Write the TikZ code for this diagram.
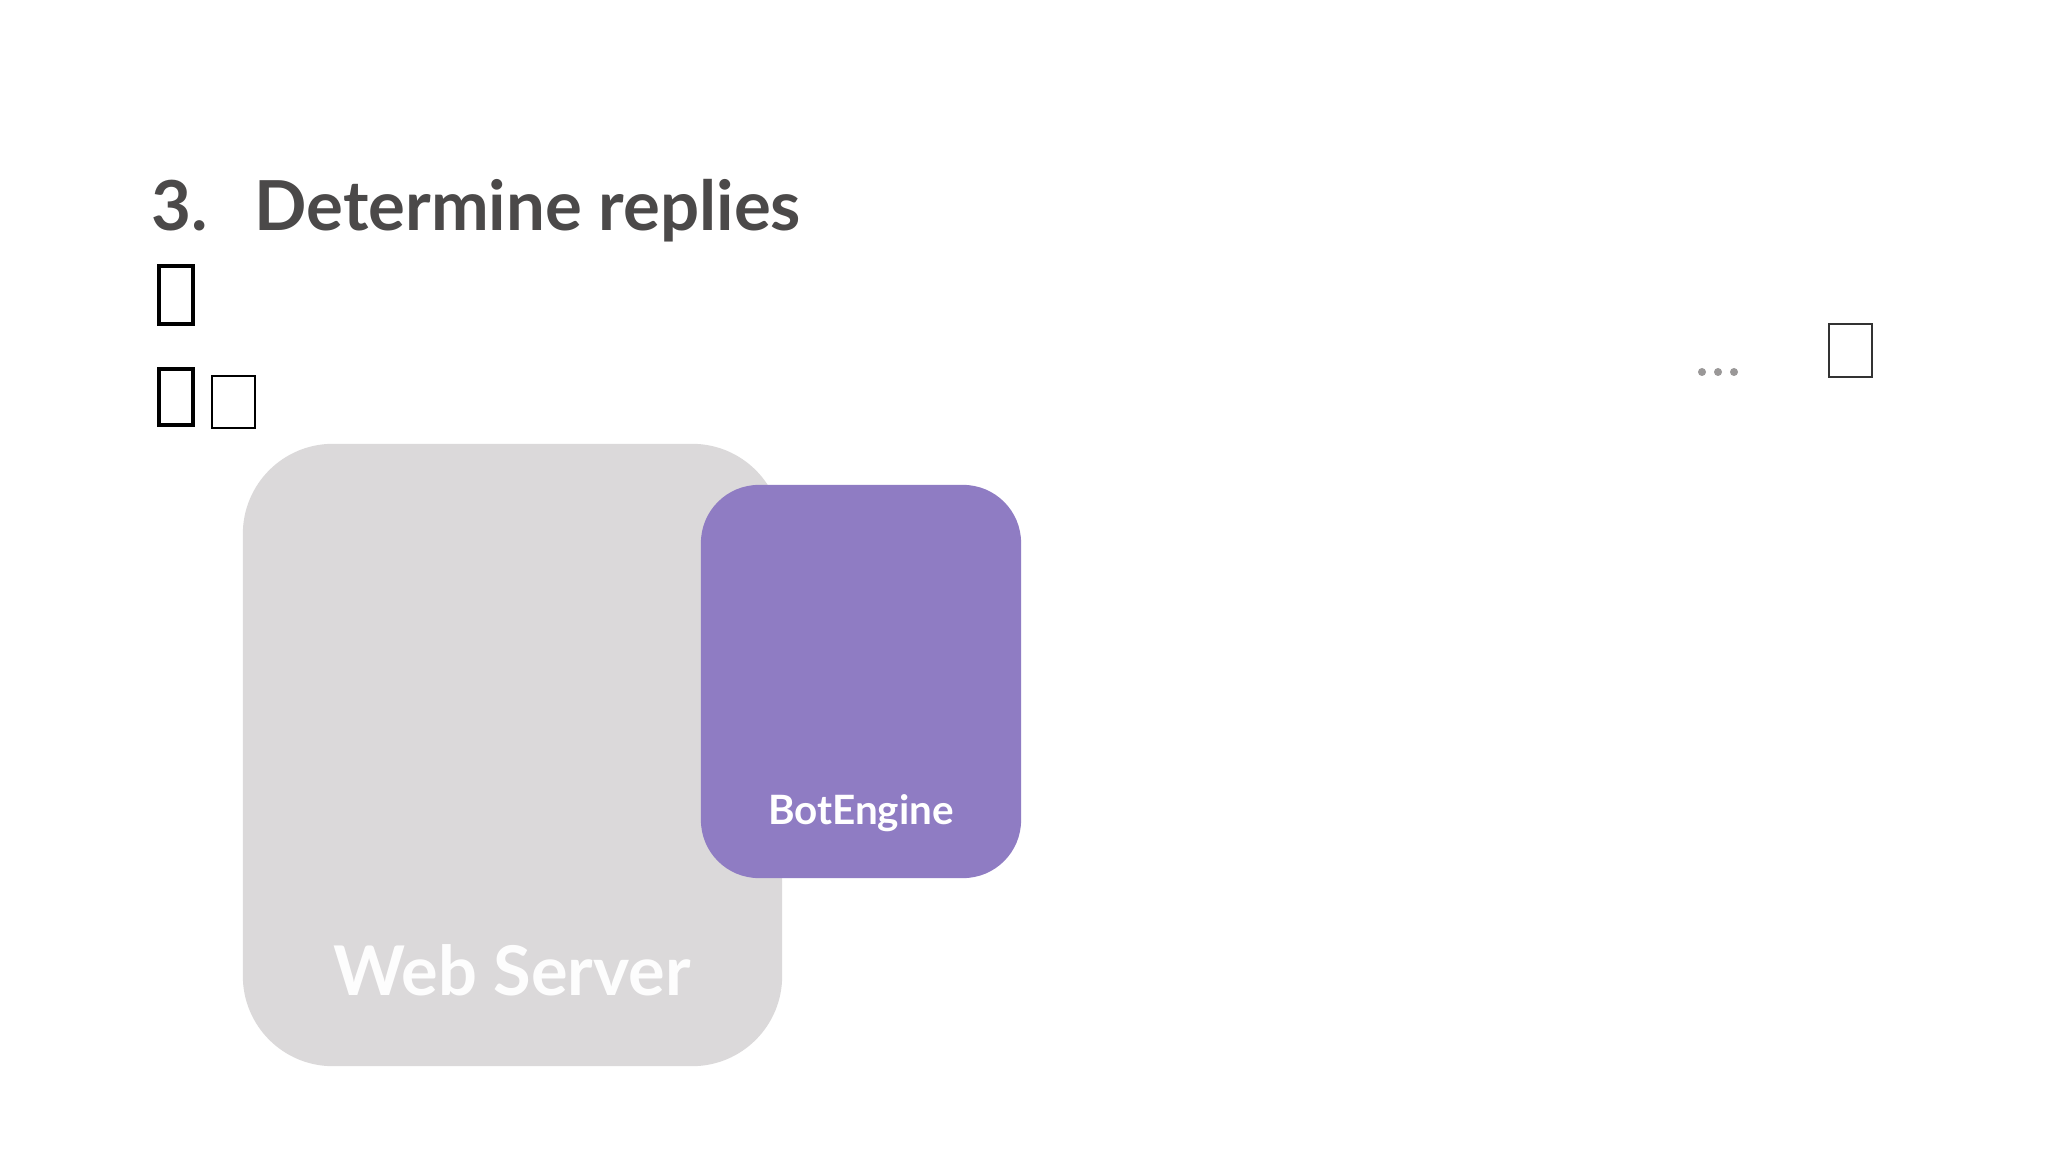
\documentclass[tikz,border=0pt]{standalone}
\usepackage{fontspec}
\setmainfont{Lato}
\definecolor{titlegray}{HTML}{4B4949}
\definecolor{webgray}{HTML}{DBD9DA}
\definecolor{botpurple}{HTML}{8F7CC3}
\definecolor{dotgray}{HTML}{9A9898}
\definecolor{boxedge}{HTML}{333333}
\tikzset{
  titletext/.style={font=\fontsize{19.6pt}{22pt}\selectfont\bfseries, text=titlegray, inner sep=0pt},
  tofuthick/.style={draw=black, line width=1.1pt, fill=white, inner sep=0pt},
  tofuthin/.style={draw=black, line width=0.45pt, fill=white, inner sep=0pt},
  webbox/.style={fill=webgray, rounded corners=0.9cm, inner sep=0pt},
  botbox/.style={fill=botpurple, rounded corners=0.58cm, inner sep=0pt},
  weblabel/.style={font=\fontsize{19.5pt}{23pt}\selectfont\bfseries, text=white!96!webgray, inner sep=0pt},
  botlabel/.style={font=\fontsize{11.5pt}{14pt}\selectfont\bfseries, text=white, inner sep=0pt},
  dot/.style={circle, fill=dotgray, minimum size=0.08cm, inner sep=0pt},
  rightbox/.style={draw=boxedge, line width=0.7pt, fill=white, inner sep=0pt}
}
\begin{document}
\begin{tikzpicture}[x=0.01cm,y=-0.01cm]
\useasboundingbox (0,0) rectangle (2048,1152);
\fill[white] (0,0) rectangle (2048,1152);
% title
\node[titletext, anchor=base west] (num) at (151,231) {3.};
\node[titletext, anchor=base west] (title) at (254,231) {Determine replies};
% missing glyph boxes
\node[tofuthick, minimum width=0.34cm, minimum height=0.58cm] (tofuA) at (176,295) {};
\node[tofuthick, minimum width=0.34cm, minimum height=0.56cm] (tofuB) at (176,397) {};
\node[tofuthin, minimum width=0.43cm, minimum height=0.52cm] (tofuC) at (233.5,402) {};
% right side
\node[dot] (d1) at (1702,372) {};
\node[dot] (d2) at (1718,372) {};
\node[dot] (d3) at (1734,372) {};
\node[rightbox, minimum width=0.43cm, minimum height=0.53cm] (rbox) at (1850.5,350.5) {};
% boxes
\node[webbox, minimum width=5.39cm, minimum height=6.22cm] (web) at (512.5,755) {};
\node[weblabel, anchor=base] (webtxt) at (512,995) {Web Server};
\node[botbox, minimum width=3.20cm, minimum height=3.93cm] (bot) at (861,681.5) {};
\node[botlabel, anchor=base] (bottxt) at (861,824) {BotEngine};
\end{tikzpicture}
\end{document}
